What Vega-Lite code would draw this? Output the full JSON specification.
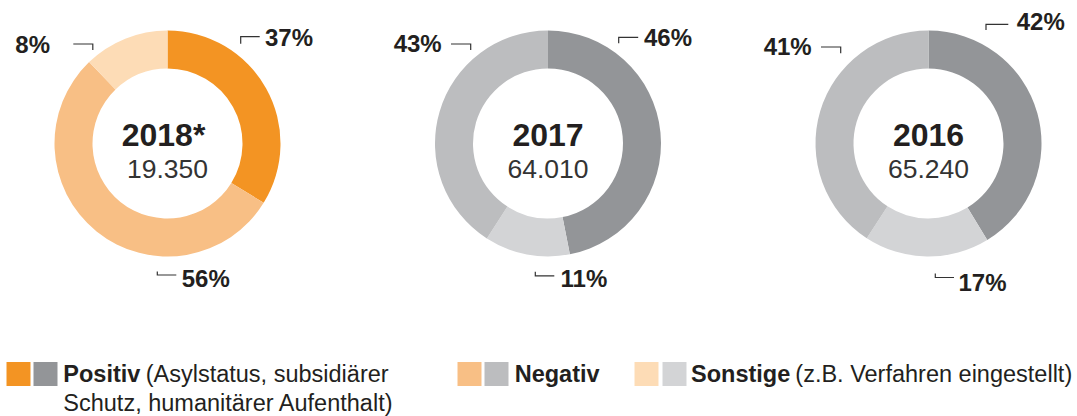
{
  "$schema": "https://vega.github.io/schema/vega-lite/v6.json",
  "width": 1077,
  "height": 287,
  "padding": 0,
  "config": {"view": {"stroke": null}, "text": {"font": "Liberation Sans"}},
  "datasets": {
    "shares": [
      {"year": "2018*", "cat": "Positiv", "ord": 1, "share": 33.8, "pct": "37%"},
      {"year": "2018*", "cat": "Negativ", "ord": 2, "share": 54.0, "pct": "56%"},
      {"year": "2018*", "cat": "Sonstige", "ord": 3, "share": 12.2, "pct": "8%"},
      {"year": "2017", "cat": "Positiv", "ord": 1, "share": 46.9, "pct": "46%"},
      {"year": "2017", "cat": "Sonstige", "ord": 2, "share": 12.2, "pct": "11%"},
      {"year": "2017", "cat": "Negativ", "ord": 3, "share": 40.9, "pct": "43%"},
      {"year": "2016", "cat": "Positiv", "ord": 1, "share": 41.3, "pct": "42%"},
      {"year": "2016", "cat": "Sonstige", "ord": 2, "share": 17.9, "pct": "17%"},
      {"year": "2016", "cat": "Negativ", "ord": 3, "share": 40.8, "pct": "41%"}
    ],
    "totals": [
      {"year": "2018*", "total": "19.350"},
      {"year": "2017", "total": "64.010"},
      {"year": "2016", "total": "65.240"}
    ],
    "legend": [
      {"cat": "Positiv", "note": "(Asylstatus, subsidiärer", "note2": "Schutz, humanitärer Aufenthalt)"},
      {"cat": "Negativ", "note": "", "note2": ""},
      {"cat": "Sonstige", "note": "(z.B. Verfahren eingestellt)", "note2": ""}
    ]
  },
  "layer": [
    {
      "data": {"name": "shares"},
      "transform": [
        {"filter": "datum.year === '2018*'"},
        {"stack": "share", "groupby": ["year"], "sort": [{"field": "ord", "order": "ascending"}], "offset": "normalize", "as": ["t0", "t1"]}
      ],
      "mark": {"type": "arc", "outerRadius": 113, "innerRadius": 75},
      "encoding": {
        "x": {"field": "year", "type": "nominal", "scale": {"type": "point", "domain": ["2018*", "2017", "2016"], "range": [167.5, 928.5], "padding": 0}, "axis": null},
        "theta": {"field": "t0", "type": "quantitative", "scale": {"domain": [0, 1]}},
        "theta2": {"field": "t1"},
        "color": {"field": "cat", "type": "nominal", "scale": {"domain": ["Positiv", "Negativ", "Sonstige"], "range": ["#F39423", "#F8BF85", "#FDDCB6"]}, "legend": null}
      }
    },
    {
      "data": {"name": "shares"},
      "transform": [
        {"filter": "datum.year !== '2018*'"},
        {"stack": "share", "groupby": ["year"], "sort": [{"field": "ord", "order": "ascending"}], "offset": "normalize", "as": ["t0", "t1"]}
      ],
      "mark": {"type": "arc", "outerRadius": 113, "innerRadius": 75},
      "encoding": {
        "x": {"field": "year", "type": "nominal", "scale": {"type": "point", "domain": ["2018*", "2017", "2016"], "range": [167.5, 928.5], "padding": 0}, "axis": null},
        "theta": {"field": "t0", "type": "quantitative", "scale": {"domain": [0, 1]}},
        "theta2": {"field": "t1"},
        "color": {"field": "cat", "type": "nominal", "scale": {"domain": ["Positiv", "Negativ", "Sonstige"], "range": ["#939598", "#BCBDBF", "#D3D4D6"]}, "legend": null}
      }
    },
    {
      "data": {"name": "totals"},
      "transform": [{"filter": "datum.year === '2018*'"}],
      "mark": {"type": "text", "align": "center", "baseline": "alphabetic", "dx": -4, "dy": 2.2, "fontSize": 32, "fontWeight": "bold", "color": "#231F20"},
      "encoding": {"x": {"field": "year", "type": "nominal", "scale": {"type": "point", "domain": ["2018*", "2017", "2016"], "range": [167.5, 928.5], "padding": 0}, "axis": null}, "text": {"field": "year"}}
    },
    {
      "data": {"name": "totals"},
      "transform": [{"filter": "datum.year !== '2018*'"}],
      "mark": {"type": "text", "align": "center", "baseline": "alphabetic", "dy": 2.2, "fontSize": 32, "fontWeight": "bold", "color": "#231F20"},
      "encoding": {"x": {"field": "year", "type": "nominal", "scale": {"type": "point", "domain": ["2018*", "2017", "2016"], "range": [167.5, 928.5], "padding": 0}, "axis": null}, "text": {"field": "year"}}
    },
    {
      "data": {"name": "totals"},
      "mark": {"type": "text", "align": "center", "baseline": "alphabetic", "dy": 34.2, "fontSize": 26.5, "color": "#333333"},
      "encoding": {"x": {"field": "year", "type": "nominal", "scale": {"type": "point", "domain": ["2018*", "2017", "2016"], "range": [167.5, 928.5], "padding": 0}, "axis": null}, "text": {"field": "total"}}
    },
    {
      "data": {"name": "shares"},
      "transform": [{"filter": "datum.year === '2018*' && datum.cat === 'Positiv'"}],
      "mark": {"type": "text", "align": "left", "baseline": "alphabetic", "dx": 97.5, "dy": -97.5, "fontSize": 24, "fontWeight": "bold", "color": "#231F20"},
      "encoding": {"x": {"field": "year", "type": "nominal", "scale": {"type": "point", "domain": ["2018*", "2017", "2016"], "range": [167.5, 928.5], "padding": 0}, "axis": null}, "text": {"field": "pct"}}
    },
    {
      "data": {"name": "shares"},
      "transform": [{"filter": "datum.year === '2018*' && datum.cat === 'Sonstige'"}],
      "mark": {"type": "text", "align": "right", "baseline": "alphabetic", "dx": -117.5, "dy": -90.8, "fontSize": 24, "fontWeight": "bold", "color": "#231F20"},
      "encoding": {"x": {"field": "year", "type": "nominal", "scale": {"type": "point", "domain": ["2018*", "2017", "2016"], "range": [167.5, 928.5], "padding": 0}, "axis": null}, "text": {"field": "pct"}}
    },
    {
      "data": {"name": "shares"},
      "transform": [{"filter": "datum.year === '2018*' && datum.cat === 'Negativ'"}],
      "mark": {"type": "text", "align": "left", "baseline": "alphabetic", "dx": 14.2, "dy": 143.2, "fontSize": 24, "fontWeight": "bold", "color": "#231F20"},
      "encoding": {"x": {"field": "year", "type": "nominal", "scale": {"type": "point", "domain": ["2018*", "2017", "2016"], "range": [167.5, 928.5], "padding": 0}, "axis": null}, "text": {"field": "pct"}}
    },
    {
      "data": {"name": "shares"},
      "transform": [{"filter": "datum.year === '2017' && datum.cat === 'Positiv'"}],
      "mark": {"type": "text", "align": "left", "baseline": "alphabetic", "dx": 96, "dy": -97.5, "fontSize": 24, "fontWeight": "bold", "color": "#231F20"},
      "encoding": {"x": {"field": "year", "type": "nominal", "scale": {"type": "point", "domain": ["2018*", "2017", "2016"], "range": [167.5, 928.5], "padding": 0}, "axis": null}, "text": {"field": "pct"}}
    },
    {
      "data": {"name": "shares"},
      "transform": [{"filter": "datum.year === '2017' && datum.cat === 'Negativ'"}],
      "mark": {"type": "text", "align": "right", "baseline": "alphabetic", "dx": -106.3, "dy": -91.2, "fontSize": 24, "fontWeight": "bold", "color": "#231F20"},
      "encoding": {"x": {"field": "year", "type": "nominal", "scale": {"type": "point", "domain": ["2018*", "2017", "2016"], "range": [167.5, 928.5], "padding": 0}, "axis": null}, "text": {"field": "pct"}}
    },
    {
      "data": {"name": "shares"},
      "transform": [{"filter": "datum.year === '2017' && datum.cat === 'Sonstige'"}],
      "mark": {"type": "text", "align": "left", "baseline": "alphabetic", "dx": 12.6, "dy": 143.5, "fontSize": 24, "fontWeight": "bold", "color": "#231F20"},
      "encoding": {"x": {"field": "year", "type": "nominal", "scale": {"type": "point", "domain": ["2018*", "2017", "2016"], "range": [167.5, 928.5], "padding": 0}, "axis": null}, "text": {"field": "pct"}}
    },
    {
      "data": {"name": "shares"},
      "transform": [{"filter": "datum.year === '2016' && datum.cat === 'Positiv'"}],
      "mark": {"type": "text", "align": "left", "baseline": "alphabetic", "dx": 88.2, "dy": -113.5, "fontSize": 24, "fontWeight": "bold", "color": "#231F20"},
      "encoding": {"x": {"field": "year", "type": "nominal", "scale": {"type": "point", "domain": ["2018*", "2017", "2016"], "range": [167.5, 928.5], "padding": 0}, "axis": null}, "text": {"field": "pct"}}
    },
    {
      "data": {"name": "shares"},
      "transform": [{"filter": "datum.year === '2016' && datum.cat === 'Negativ'"}],
      "mark": {"type": "text", "align": "right", "baseline": "alphabetic", "dx": -116.8, "dy": -88.5, "fontSize": 24, "fontWeight": "bold", "color": "#231F20"},
      "encoding": {"x": {"field": "year", "type": "nominal", "scale": {"type": "point", "domain": ["2018*", "2017", "2016"], "range": [167.5, 928.5], "padding": 0}, "axis": null}, "text": {"field": "pct"}}
    },
    {
      "data": {"name": "shares"},
      "transform": [{"filter": "datum.year === '2016' && datum.cat === 'Sonstige'"}],
      "mark": {"type": "text", "align": "left", "baseline": "alphabetic", "dx": 30, "dy": 147.5, "fontSize": 24, "fontWeight": "bold", "color": "#231F20"},
      "encoding": {"x": {"field": "year", "type": "nominal", "scale": {"type": "point", "domain": ["2018*", "2017", "2016"], "range": [167.5, 928.5], "padding": 0}, "axis": null}, "text": {"field": "pct"}}
    },
    {
      "data": {"name": "shares"},
      "transform": [{"filter": "datum.year === '2018*' && datum.cat === 'Positiv'"}],
      "mark": {"type": "point", "shape": "M0,7V0H19", "size": 4, "filled": false, "stroke": "#333333", "strokeWidth": 1.2, "opacity": 1, "xOffset": 73.2, "yOffset": -106.8},
      "encoding": {"x": {"field": "year", "type": "nominal", "scale": {"type": "point", "domain": ["2018*", "2017", "2016"], "range": [167.5, 928.5], "padding": 0}, "axis": null}}
    },
    {
      "data": {"name": "shares"},
      "transform": [{"filter": "datum.year === '2018*' && datum.cat === 'Sonstige'"}],
      "mark": {"type": "point", "shape": "M0,0H19.5V6", "size": 4, "filled": false, "stroke": "#333333", "strokeWidth": 1.2, "opacity": 1, "xOffset": -94.2, "yOffset": -99.5},
      "encoding": {"x": {"field": "year", "type": "nominal", "scale": {"type": "point", "domain": ["2018*", "2017", "2016"], "range": [167.5, 928.5], "padding": 0}, "axis": null}}
    },
    {
      "data": {"name": "shares"},
      "transform": [{"filter": "datum.year === '2018*' && datum.cat === 'Negativ'"}],
      "mark": {"type": "point", "shape": "M0,-3.5V0H19", "size": 4, "filled": false, "stroke": "#333333", "strokeWidth": 1.2, "opacity": 1, "xOffset": -10.2, "yOffset": 131.5},
      "encoding": {"x": {"field": "year", "type": "nominal", "scale": {"type": "point", "domain": ["2018*", "2017", "2016"], "range": [167.5, 928.5], "padding": 0}, "axis": null}}
    },
    {
      "data": {"name": "shares"},
      "transform": [{"filter": "datum.year === '2017' && datum.cat === 'Positiv'"}],
      "mark": {"type": "point", "shape": "M0,6V0H19.5", "size": 4, "filled": false, "stroke": "#333333", "strokeWidth": 1.2, "opacity": 1, "xOffset": 70.7, "yOffset": -106.2},
      "encoding": {"x": {"field": "year", "type": "nominal", "scale": {"type": "point", "domain": ["2018*", "2017", "2016"], "range": [167.5, 928.5], "padding": 0}, "axis": null}}
    },
    {
      "data": {"name": "shares"},
      "transform": [{"filter": "datum.year === '2017' && datum.cat === 'Negativ'"}],
      "mark": {"type": "point", "shape": "M0,0H19.7V6", "size": 4, "filled": false, "stroke": "#333333", "strokeWidth": 1.2, "opacity": 1, "xOffset": -97, "yOffset": -99.5},
      "encoding": {"x": {"field": "year", "type": "nominal", "scale": {"type": "point", "domain": ["2018*", "2017", "2016"], "range": [167.5, 928.5], "padding": 0}, "axis": null}}
    },
    {
      "data": {"name": "shares"},
      "transform": [{"filter": "datum.year === '2017' && datum.cat === 'Sonstige'"}],
      "mark": {"type": "point", "shape": "M0,-4V0H19", "size": 4, "filled": false, "stroke": "#333333", "strokeWidth": 1.2, "opacity": 1, "xOffset": -12.7, "yOffset": 132.3},
      "encoding": {"x": {"field": "year", "type": "nominal", "scale": {"type": "point", "domain": ["2018*", "2017", "2016"], "range": [167.5, 928.5], "padding": 0}, "axis": null}}
    },
    {
      "data": {"name": "shares"},
      "transform": [{"filter": "datum.year === '2016' && datum.cat === 'Positiv'"}],
      "mark": {"type": "point", "shape": "M0,5.7V0H22.3", "size": 4, "filled": false, "stroke": "#333333", "strokeWidth": 1.2, "opacity": 1, "xOffset": 57.5, "yOffset": -119.2},
      "encoding": {"x": {"field": "year", "type": "nominal", "scale": {"type": "point", "domain": ["2018*", "2017", "2016"], "range": [167.5, 928.5], "padding": 0}, "axis": null}}
    },
    {
      "data": {"name": "shares"},
      "transform": [{"filter": "datum.year === '2016' && datum.cat === 'Negativ'"}],
      "mark": {"type": "point", "shape": "M0,0H19.7V6.3", "size": 4, "filled": false, "stroke": "#333333", "strokeWidth": 1.2, "opacity": 1, "xOffset": -107.5, "yOffset": -96.5},
      "encoding": {"x": {"field": "year", "type": "nominal", "scale": {"type": "point", "domain": ["2018*", "2017", "2016"], "range": [167.5, 928.5], "padding": 0}, "axis": null}}
    },
    {
      "data": {"name": "shares"},
      "transform": [{"filter": "datum.year === '2016' && datum.cat === 'Sonstige'"}],
      "mark": {"type": "point", "shape": "M0,-4V0H18.7", "size": 4, "filled": false, "stroke": "#333333", "strokeWidth": 1.2, "opacity": 1, "xOffset": 6.8, "yOffset": 134},
      "encoding": {"x": {"field": "year", "type": "nominal", "scale": {"type": "point", "domain": ["2018*", "2017", "2016"], "range": [167.5, 928.5], "padding": 0}, "axis": null}}
    },
    {
      "data": {"name": "legend"},
      "transform": [{"filter": "datum.cat === 'Positiv'"}],
      "mark": {"type": "point", "shape": "square", "size": 576, "filled": true, "opacity": 1, "color": "#F39423", "xOffset": -520, "yOffset": 230.5},
      "encoding": {}
    },
    {
      "data": {"name": "legend"},
      "transform": [{"filter": "datum.cat === 'Positiv'"}],
      "mark": {"type": "point", "shape": "square", "size": 576, "filled": true, "opacity": 1, "color": "#939598", "xOffset": -493, "yOffset": 230.5},
      "encoding": {}
    },
    {
      "data": {"name": "legend"},
      "transform": [{"filter": "datum.cat === 'Negativ'"}],
      "mark": {"type": "point", "shape": "square", "size": 576, "filled": true, "opacity": 1, "color": "#F8BF85", "xOffset": -69, "yOffset": 230.5},
      "encoding": {}
    },
    {
      "data": {"name": "legend"},
      "transform": [{"filter": "datum.cat === 'Negativ'"}],
      "mark": {"type": "point", "shape": "square", "size": 576, "filled": true, "opacity": 1, "color": "#BCBDBF", "xOffset": -42, "yOffset": 230.5},
      "encoding": {}
    },
    {
      "data": {"name": "legend"},
      "transform": [{"filter": "datum.cat === 'Sonstige'"}],
      "mark": {"type": "point", "shape": "square", "size": 576, "filled": true, "opacity": 1, "color": "#FDDCB6", "xOffset": 108, "yOffset": 230.5},
      "encoding": {}
    },
    {
      "data": {"name": "legend"},
      "transform": [{"filter": "datum.cat === 'Sonstige'"}],
      "mark": {"type": "point", "shape": "square", "size": 576, "filled": true, "opacity": 1, "color": "#D3D4D6", "xOffset": 136, "yOffset": 230.5},
      "encoding": {}
    },
    {
      "data": {"name": "legend"},
      "transform": [{"filter": "datum.cat === 'Positiv'"}],
      "mark": {"type": "text", "align": "left", "baseline": "alphabetic", "dx": -475.2, "dy": 238.2, "fontSize": 23.5, "fontWeight": "bold", "color": "#231F20"},
      "encoding": {"text": {"field": "cat"}}
    },
    {
      "data": {"name": "legend"},
      "transform": [{"filter": "datum.cat === 'Positiv'"}],
      "mark": {"type": "text", "align": "left", "baseline": "alphabetic", "dx": -392.8, "dy": 238.2, "fontSize": 23.5, "color": "#231F20"},
      "encoding": {"text": {"field": "note"}}
    },
    {
      "data": {"name": "legend"},
      "transform": [{"filter": "datum.cat === 'Positiv'"}],
      "mark": {"type": "text", "align": "left", "baseline": "alphabetic", "dx": -475.2, "dy": 267.3, "fontSize": 23.5, "color": "#231F20"},
      "encoding": {"text": {"field": "note2"}}
    },
    {
      "data": {"name": "legend"},
      "transform": [{"filter": "datum.cat === 'Negativ'"}],
      "mark": {"type": "text", "align": "left", "baseline": "alphabetic", "dx": -23.8, "dy": 238.2, "fontSize": 23.5, "fontWeight": "bold", "color": "#231F20"},
      "encoding": {"text": {"field": "cat"}}
    },
    {
      "data": {"name": "legend"},
      "transform": [{"filter": "datum.cat === 'Sonstige'"}],
      "mark": {"type": "text", "align": "left", "baseline": "alphabetic", "dx": 152.5, "dy": 238.2, "fontSize": 23.5, "fontWeight": "bold", "color": "#231F20"},
      "encoding": {"text": {"field": "cat"}}
    },
    {
      "data": {"name": "legend"},
      "transform": [{"filter": "datum.cat === 'Sonstige'"}],
      "mark": {"type": "text", "align": "left", "baseline": "alphabetic", "dx": 256.8, "dy": 238.2, "fontSize": 23.5, "color": "#231F20"},
      "encoding": {"text": {"field": "note"}}
    }
  ],
  "resolve": {"scale": {"color": "independent"}}
}
